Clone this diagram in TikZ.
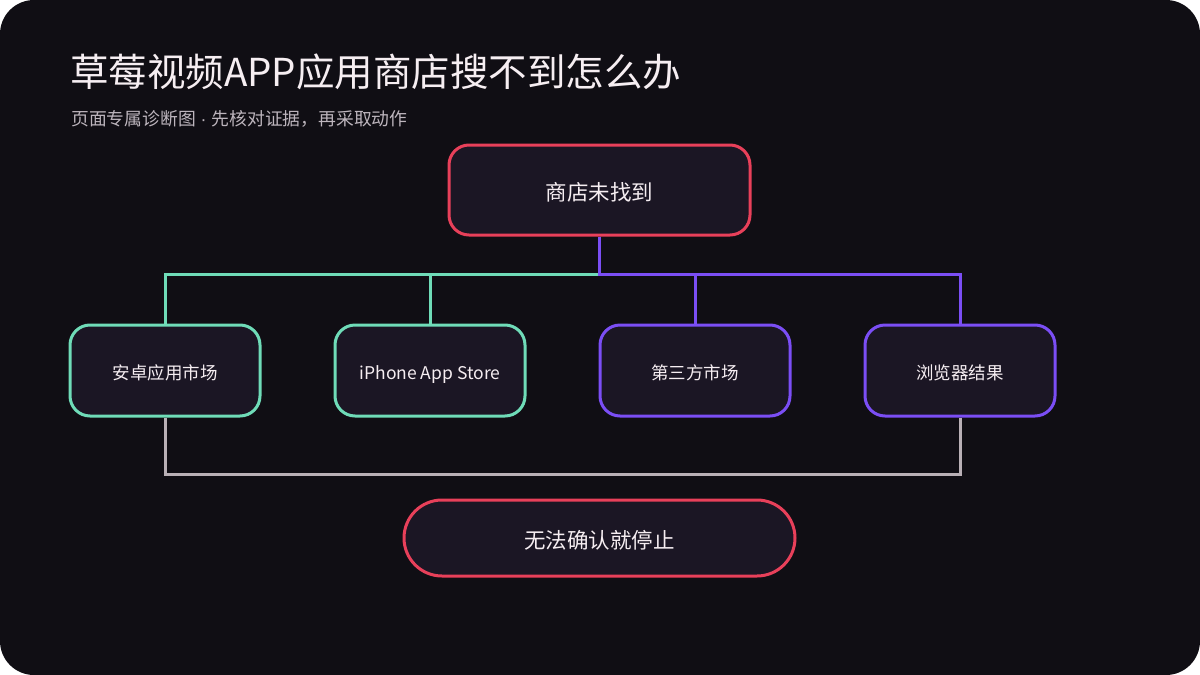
\documentclass[tikz,border=0pt]{standalone}
\usepackage{fontspec}
\setmainfont{Noto Sans CJK SC}
\newfontfamily\dotfont{Liberation Sans}
\usetikzlibrary{backgrounds}
\definecolor{pagebg}{HTML}{100E14}
\definecolor{nodebg}{HTML}{1B1624}
\definecolor{redc}{HTML}{E8405A}
\definecolor{greenc}{HTML}{6FDCB8}
\definecolor{purplec}{HTML}{7B4EF5}
\definecolor{grayc}{HTML}{B9B0B6}
\definecolor{textc}{HTML}{F6EEF2}
\definecolor{subc}{HTML}{BDB5BD}
\pgfdeclarelayer{bglayer}
\pgfdeclarelayer{edgelayer}
\pgfsetlayers{bglayer,edgelayer,main}
\tikzset{
  box/.style={draw, fill=nodebg, line width=3pt, rounded corners=20pt, text=textc, align=center, inner sep=0pt},
  rootbox/.style={box, draw=redc, minimum width=301pt, minimum height=90pt, font=\fontsize{21.5}{26}\selectfont, text height=20pt, text depth=0pt},
  greenbox/.style={box, draw=greenc, minimum width=190pt, minimum height=91pt, font=\fontsize{17.5}{21}\selectfont, text height=18.5pt, text depth=0pt},
  purplebox/.style={box, draw=purplec, minimum width=190pt, minimum height=91pt, font=\fontsize{17.5}{21}\selectfont, text height=18.5pt, text depth=0pt},
  pillbox/.style={box, draw=redc, rounded corners=38pt, minimum width=391pt, minimum height=76pt, font=\fontsize{21.5}{26}\selectfont, text height=20pt, text depth=0pt},
  greenline/.style={draw=greenc, line width=3pt},
  purpleline/.style={draw=purplec, line width=3pt},
  grayline/.style={draw=grayc, line width=3pt},
}
\begin{document}
\begin{tikzpicture}[x=1pt,y=-1pt]
\useasboundingbox (0,0) rectangle (1200,675);
\begin{pgfonlayer}{bglayer}
  \fill[white] (0,0) rectangle (1200,675);
  \fill[pagebg, rounded corners=34pt] (0,0) rectangle (1200,675);
\end{pgfonlayer}
\node[anchor=base west, text=textc, inner sep=0pt, font=\fontsize{38.5}{44}\selectfont] (title) at (70,86) {草莓视频APP应用商店搜不到怎么办};
\node[anchor=base west, text=subc, inner sep=0pt, font=\fontsize{17.8}{21}\selectfont] (subtitle) at (71,125) {页面专属诊断图{\dotfont\ ·\ }先核对证据，再采取动作};

\node[rootbox] (root) at (599.5,190) {商店未找到};
\node[greenbox] (c1) at (165,370.5) {安卓应用市场};
\node[greenbox] (c2) at (430,370.5) {iPhone App Store};
\node[purplebox] (c3) at (695,370.5) {第三方市场};
\node[purplebox] (c4) at (960,370.5) {浏览器结果};
\node[pillbox] (stop) at (599.5,538) {无法确认就停止};

\coordinate (bus) at (600,274);
\coordinate (gbus) at (600,474);
\begin{pgfonlayer}{edgelayer}
  \draw[greenline] (root.south) -- (root.south |- bus) -| (c1.north);
  \draw[greenline] (root.south) -- (root.south |- bus) -| (c2.north);
  \draw[purpleline] (root.south) -- (root.south |- bus) -| (c3.north);
  \draw[purpleline] (root.south) -- (root.south |- bus) -| (c4.north);
  \draw[grayline] (c1.south) -- (c1.south |- gbus) -| (c4.south);
\end{pgfonlayer}
\end{tikzpicture}
\end{document}
